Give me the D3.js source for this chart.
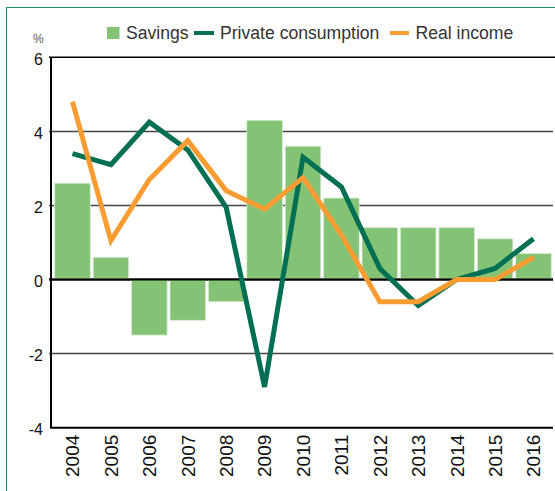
<!DOCTYPE html>
<html>
<head>
<meta charset="utf-8">
<script src="https://cdn.jsdelivr.net/npm/d3@7"></script>
<style>
  body { margin: 0; background: #fff; }
  svg text { font-family: Arial, "Liberation Sans", sans-serif; fill: #111; }
</style>
</head>
<body>
<svg id="chart" width="555" height="491"></svg>
<script>
const YEARS = ["2004", "2005", "2006", "2007", "2008", "2009", "2010", "2011", "2012", "2013", "2014", "2015", "2016"];
const SAVINGS = [2.6, 0.6, -1.5, -1.1, -0.6, 4.3, 3.6, 2.2, 1.4, 1.4, 1.4, 1.1, 0.7];
const PRIVATE_CONSUMPTION = [3.4, 3.1, 4.25, 3.5, 1.95, -2.9, 3.3, 2.5, 0.3, -0.7, 0.0, 0.3, 1.1];
const REAL_INCOME = [4.8, 1.05, 2.7, 3.75, 2.4, 1.9, 2.75, 1.2, -0.6, -0.6, 0.0, 0.0, 0.6];
const Y_TICKS = [-4, -2, 0, 2, 4, 6];

const GREEN_BAR = "#84c375";
const DARK_GREEN = "#006f53";
const ORANGE = "#f99d33";

const svg = d3.select("#chart");

// outer frame
svg.append("path")
    .attr("d", "M6.5,491 V7.5 H555")
    .attr("fill", "none")
    .attr("stroke", "#1f8c72")
    .attr("stroke-width", 1);

const plotLeft = 51, plotRight = 553, plotTop = 57.3, plotBottom = 427.7;

const x = d3.scaleBand()
    .domain(YEARS)
    .range([53.4, 552.6])
    .paddingInner(0.075)
    .paddingOuter(0.035);

const y = d3.scaleLinear()
    .domain([-4, 6])
    .range([plotBottom, plotTop]);

// gridlines
svg.append("g")
    .selectAll("line")
    .data(Y_TICKS.filter(d => d !== -4))
    .enter()
    .append("line")
    .attr("x1", plotLeft - 2)
    .attr("x2", d => d === 6 ? 555 : plotRight)
    .attr("y1", d => y(d))
    .attr("y2", d => y(d))
    .attr("stroke", d => d === 0 || d === 6 ? "#000" : "#444")
    .attr("stroke-width", d => d === 0 ? 2 : 1.5);

// bars
svg.append("g")
    .selectAll("rect")
    .data(SAVINGS)
    .enter()
    .append("rect")
    .attr("x", (d, i) => x(YEARS[i]))
    .attr("width", x.bandwidth())
    .attr("y", d => y(Math.max(0, d)))
    .attr("height", d => Math.abs(y(d) - y(0)))
    .attr("fill", GREEN_BAR)
    .attr("stroke", "#d6ecd0")
    .attr("stroke-width", 0.8);

// zero line drawn again over bars
svg.append("line")
    .attr("x1", plotLeft - 2).attr("x2", plotRight)
    .attr("y1", y(0)).attr("y2", y(0))
    .attr("stroke", "#000")
    .attr("stroke-width", 2);

// axis frame: left and bottom
svg.append("path")
    .attr("d", `M${plotLeft},${plotTop} V${plotBottom} H${plotRight}`)
    .attr("fill", "none")
    .attr("stroke", "#000")
    .attr("stroke-width", 2);

const line = d3.line()
    .x((d, i) => x(YEARS[i]) + x.bandwidth() / 2)
    .y(d => y(d));

svg.append("path")
    .datum(PRIVATE_CONSUMPTION)
    .attr("d", line)
    .attr("fill", "none")
    .attr("stroke", DARK_GREEN)
    .attr("stroke-width", 5);

svg.append("path")
    .datum(REAL_INCOME)
    .attr("d", line)
    .attr("fill", "none")
    .attr("stroke", ORANGE)
    .attr("stroke-width", 5);

// y axis labels
const yAxis = d3.axisLeft(y)
    .tickValues(Y_TICKS)
    .tickFormat(d => String(d))
    .tickSize(0)
    .tickPadding(8);

const ya = svg.append("g")
    .attr("transform", `translate(${plotLeft},0)`)
    .call(yAxis);
ya.select(".domain").remove();
ya.selectAll("text")
    .attr("font-size", 16)
    .attr("dy", "0.45em")
    .attr("font-family", "Arial, 'Liberation Sans', sans-serif")
    .attr("fill", "#000");

svg.append("text")
    .attr("x", 33)
    .attr("y", 43)
    .attr("font-size", 12)
    .attr("fill", "#555")
    .style("fill", "#555")
    .text("%");

// x axis labels, rotated
const xAxis = d3.axisBottom(x)
    .tickSize(0)
    .tickPadding(0);

const xa = svg.append("g")
    .attr("transform", `translate(0,${plotBottom})`)
    .call(xAxis);
xa.select(".domain").remove();
xa.selectAll("text")
    .attr("font-size", 19)
    .attr("font-family", "Arial, 'Liberation Sans', sans-serif")
    .attr("fill", "#222")
    .attr("transform", "rotate(-90)")
    .attr("text-anchor", "end")
    .attr("dy", "0.36em")
    .attr("x", -7)
    .attr("y", 0);

// legend
const legend = svg.append("g").attr("font-size", 17.6);

legend.append("rect")
    .attr("x", 107).attr("y", 27)
    .attr("width", 12.5).attr("height", 12)
    .attr("fill", GREEN_BAR);
legend.append("text").attr("x", 126).attr("y", 39).style("fill", "#333").text("Savings");

legend.append("line")
    .attr("x1", 194).attr("x2", 214).attr("y1", 33).attr("y2", 33)
    .attr("stroke", DARK_GREEN).attr("stroke-width", 4);
legend.append("text").attr("x", 220).attr("y", 39).style("fill", "#333").text("Private consumption");

legend.append("line")
    .attr("x1", 390).attr("x2", 409).attr("y1", 33).attr("y2", 33)
    .attr("stroke", ORANGE).attr("stroke-width", 4);
legend.append("text").attr("x", 415.5).attr("y", 39).style("fill", "#333").text("Real income");
</script>
</body>
</html>
